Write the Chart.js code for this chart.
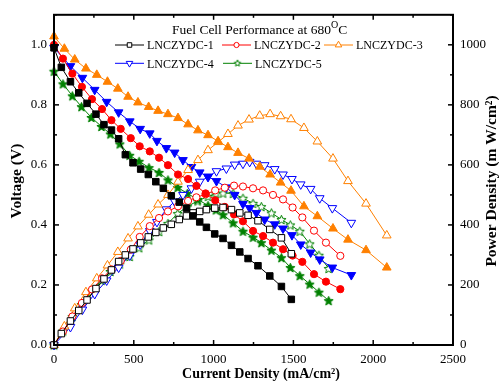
<!DOCTYPE html>
<html>
<head>
<meta charset="utf-8">
<script src="https://cdn.jsdelivr.net/npm/chart.js@4.4.0/dist/chart.umd.min.js"></script>
<style>
    html, body { margin: 0; padding: 0; background: #fff; }
</style>
</head>
<body>
<canvas id="fuelChart" width="499" height="381"></canvas>
<script>
/* ---------- data ---------- */
const sampleNames = ['LNCZYDC-1', 'LNCZYDC-2', 'LNCZYDC-3', 'LNCZYDC-4', 'LNCZYDC-5'];

// current density (mA/cm2), voltage (V), power density (mW/cm2)
const current1 = [0, 46, 103, 155, 207, 263, 313, 360, 405, 447, 495, 543, 591, 638, 685, 735, 785, 830, 871, 913, 955, 1007, 1059, 1112, 1164, 1216, 1278, 1352, 1425, 1487];
const voltage1 = [0.99, 0.925, 0.877, 0.84, 0.805, 0.769, 0.734, 0.716, 0.687, 0.634, 0.607, 0.586, 0.568, 0.544, 0.522, 0.497, 0.476, 0.456, 0.43, 0.41, 0.392, 0.37, 0.355, 0.332, 0.31, 0.288, 0.264, 0.23, 0.195, 0.152];
const power1   = [0, 38, 80, 115, 150, 188, 220, 250, 278, 300, 320, 340, 360, 375, 390, 402, 418, 430, 440, 445, 451, 456, 458, 451, 440, 432, 414, 385, 357, 304];

const current2 = [0, 56, 115, 175, 238, 301, 360, 418, 481, 537, 600, 658, 714, 777, 840, 892, 950, 1010, 1070, 1128, 1184, 1247, 1310, 1372, 1435, 1495, 1556, 1629, 1704, 1794];
const voltage2 = [1.0, 0.954, 0.904, 0.86, 0.819, 0.786, 0.749, 0.72, 0.689, 0.662, 0.645, 0.624, 0.599, 0.568, 0.553, 0.53, 0.505, 0.482, 0.46, 0.435, 0.412, 0.38, 0.363, 0.341, 0.319, 0.298, 0.277, 0.236, 0.211, 0.186];
const power2   = [0, 45, 95, 140, 185, 222, 252, 280, 318, 360, 396, 423, 445, 462, 480, 492, 502, 515, 524, 531, 528, 522, 515, 500, 485, 458, 425, 381, 341, 297];

const current3 = [0, 65, 130, 200, 268, 335, 400, 464, 526, 593, 652, 714, 777, 840, 902, 965, 1028, 1090, 1153, 1222, 1289, 1354, 1420, 1485, 1566, 1650, 1748, 1842, 1955, 2085];
const voltage3 = [1.028, 0.987, 0.951, 0.921, 0.9, 0.877, 0.854, 0.827, 0.808, 0.793, 0.78, 0.769, 0.756, 0.735, 0.715, 0.699, 0.679, 0.659, 0.64, 0.621, 0.594, 0.568, 0.541, 0.514, 0.462, 0.429, 0.388, 0.351, 0.316, 0.258];
const power3   = [0, 62, 122, 176, 222, 265, 310, 355, 395, 434, 468, 500, 544, 583, 616, 649, 676, 703, 731, 751, 764, 769, 762, 752, 723, 678, 621, 546, 471, 365];

const current4 = [0, 103, 178, 255, 330, 405, 475, 540, 600, 645, 704, 756, 808, 861, 913, 965, 1018, 1080, 1132, 1184, 1226, 1268, 1320, 1383, 1435, 1491, 1546, 1608, 1665, 1744, 1863];
const voltage4 = [0.99, 0.929, 0.89, 0.85, 0.81, 0.775, 0.745, 0.72, 0.705, 0.68, 0.656, 0.641, 0.616, 0.593, 0.575, 0.561, 0.546, 0.525, 0.5, 0.47, 0.456, 0.44, 0.418, 0.402, 0.388, 0.366, 0.335, 0.308, 0.285, 0.258, 0.233];
const power4   = [0, 60, 118, 170, 215, 258, 298, 335, 380, 410, 452, 478, 500, 522, 544, 560, 579, 588, 601, 604, 610, 604, 599, 586, 568, 553, 535, 520, 489, 456, 407];

const current5 = [0, 56, 115, 172, 234, 297, 353, 412, 474, 533, 595, 658, 714, 775, 835, 900, 965, 1015, 1059, 1122, 1184, 1247, 1299, 1362, 1425, 1481, 1540, 1602, 1660, 1721];
const voltage5 = [0.912, 0.87, 0.83, 0.794, 0.758, 0.728, 0.703, 0.67, 0.632, 0.612, 0.591, 0.575, 0.55, 0.525, 0.505, 0.485, 0.465, 0.45, 0.434, 0.407, 0.379, 0.359, 0.341, 0.316, 0.291, 0.258, 0.231, 0.203, 0.176, 0.148];
const power5   = [0, 47, 95, 135, 178, 215, 245, 270, 295, 324, 350, 378, 405, 438, 461, 480, 495, 505, 506, 505, 489, 472, 461, 440, 418, 400, 379, 337, 299, 255];

const voltageTicks = [0, 0.2, 0.4, 0.6, 0.8, 1.0];
const powerTicks = [0, 200, 400, 600, 800, 1000];
const currentTicks = [0, 500, 1000, 1500, 2000, 2500];

/* ---------- marker helpers ---------- */
const FONT = "'Liberation Serif', 'Times New Roman', serif";

function starCanvas(color, filled, outer) {
    const c = document.createElement('canvas');
    const s = Math.ceil(outer * 2 + 3);
    c.width = s; c.height = s;
    const g = c.getContext('2d');
    g.beginPath();
    for (let i = 0; i < 10; i++) {
        const r = i % 2 ? outer * 0.45 : outer;
        const a = -Math.PI / 2 + i * Math.PI / 5;
        g.lineTo(s / 2 + r * Math.cos(a), s / 2 + 0.5 + r * Math.sin(a));
    }
    g.closePath();
    g.fillStyle = filled ? color : '#fff';
    g.fill();
    g.strokeStyle = color;
    g.lineWidth = 1;
    g.stroke();
    return c;
}

const series = [
    { name: sampleNames[0], color: '#000000', style: 'rect', radius: 4.6, rotation: 0, cur: current1, v: voltage1, p: power1 },
    { name: sampleNames[1], color: '#ff0000', style: 'circle', radius: 3.6, rotation: 0, cur: current2, v: voltage2, p: power2 },
    { name: sampleNames[2], color: '#ff8000', style: 'triangle', radius: 5, rotation: 0, cur: current3, v: voltage3, p: power3 },
    { name: sampleNames[3], color: '#0000ff', style: 'triangle', radius: 5, rotation: 180, cur: current4, v: voltage4, p: power4 },
    { name: sampleNames[4], color: '#008000', style: 'star', radius: 5, rotation: 0, cur: current5, v: voltage5, p: power5 }
];
series[4].filledImg = starCanvas('#008000', true, 4.8);
series[4].openImg = starCanvas('#008000', false, 4.8);
const legendStar = starCanvas('#008000', false, 3.4);

const toPoints = (xs, ys) => xs.map((x, i) => ({ x, y: ys[i] }));

const datasets = [];
series.forEach((s) => {
    const base = {
        borderColor: s.color,
        borderWidth: 1,
        pointBorderColor: s.color,
        pointBorderWidth: 1,
        pointRadius: s.radius,
        pointRotation: s.rotation,
        showLine: true,
        tension: 0,
        clip: false
    };
    datasets.push(Object.assign({}, base, {
        label: s.name + ' V',
        data: toPoints(s.cur, s.v),
        yAxisID: 'y',
        pointStyle: s.style === 'star' ? s.filledImg : s.style,
        pointBackgroundColor: s.color
    }));
    datasets.push(Object.assign({}, base, {
        label: s.name + ' P',
        data: toPoints(s.cur, s.p),
        yAxisID: 'y1',
        pointStyle: s.style === 'star' ? s.openImg : s.style,
        pointBackgroundColor: '#ffffff'
    }));
});

/* ---------- frame, inward ticks, titles, legend ---------- */
const framePlugin = {
    id: 'frame',
    afterDraw(chart) {
        const { ctx, chartArea: a, scales } = chart;
        ctx.save();
        ctx.strokeStyle = '#000';
        ctx.lineWidth = 1.5;

        const line = (x1, y1, x2, y2) => {
            ctx.beginPath(); ctx.moveTo(x1, y1); ctx.lineTo(x2, y2); ctx.stroke();
        };
        for (let v = 0; v <= 2500; v += 250) {
            const x = scales.x.getPixelForValue(v);
            const len = v % 500 === 0 ? 5 : 3;
            line(x, a.bottom, x, a.bottom - len);
            line(x, a.top, x, a.top + len);
        }
        for (let i = 0; i <= 11; i++) {
            const y = scales.y.getPixelForValue(i / 10);
            line(a.left, y, a.left + (i % 2 === 0 ? 5 : 3), y);
        }
        for (let v = 0; v <= 1100; v += 100) {
            const y = scales.y1.getPixelForValue(v);
            line(a.right, y, a.right - (v % 200 === 0 ? 5 : 3), y);
        }

        ctx.lineWidth = 2;
        ctx.strokeRect(a.left, a.top, a.right - a.left, a.bottom - a.top);

        // axis titles
        ctx.fillStyle = '#000';
        ctx.textAlign = 'center';
        ctx.textBaseline = 'middle';
        ctx.font = 'bold 14px ' + FONT;
        ctx.fillText('Current Density (mA/cm²)', 261, 374);

        ctx.font = 'bold 15.5px ' + FONT;
        ctx.save();
        ctx.translate(17, 181);
        ctx.rotate(-Math.PI / 2);
        ctx.fillText('Voltage (V)', 0, 0);
        ctx.restore();

        ctx.save();
        ctx.translate(492, 181);
        ctx.rotate(-Math.PI / 2);
        ctx.fillText('Power Density (m W/cm²)', 0, 0);
        ctx.restore();

        // heading inside the plot
        ctx.textAlign = 'left';
        ctx.textBaseline = 'alphabetic';
        ctx.font = '13.5px ' + FONT;
        const head = 'Fuel Cell Performance at 680';
        let hx = 172;
        ctx.fillText(head, hx, 33.5);
        hx += ctx.measureText(head).width;
        ctx.font = '10px ' + FONT;
        ctx.fillText('O', hx, 27.5);
        hx += ctx.measureText('O').width;
        ctx.font = '13.5px ' + FONT;
        ctx.fillText('C', hx, 33.5);

        // legend entries: line + small open marker + label
        const spots = [[115, 45], [222, 45], [324, 45], [115, 63.3], [223, 63.3]];
        series.forEach((s, i) => {
            const [lx, ly] = spots[i];
            ctx.strokeStyle = s.color;
            ctx.lineWidth = 1;
            line(lx, ly, lx + 29, ly);
            const mx = lx + 14.5;
            if (s.style === 'star') {
                ctx.drawImage(legendStar, mx - legendStar.width / 2, ly - legendStar.height / 2 - 0.5);
            } else {
                ctx.fillStyle = '#fff';
                const r = s.style === 'circle' ? 2.6 : (s.style === 'rect' ? 3.2 : 3.8);
                Chart.helpers.drawPoint(ctx, { pointStyle: s.style, rotation: s.rotation, radius: r, borderWidth: 1 }, mx, ly);
            }
            ctx.fillStyle = '#000';
            ctx.font = '12px ' + FONT;
            ctx.fillText(s.name, lx + 32, ly + 4.3);
        });
        ctx.restore();
    }
};

/* ---------- chart ---------- */
const tickFont = { family: FONT, size: 13 };

new Chart(document.getElementById('fuelChart'), {
    type: 'scatter',
    data: { datasets },
    options: {
        responsive: false,
        devicePixelRatio: 1,
        animation: false,
        layout: { padding: { top: 11, right: 0, bottom: 0, left: 0 } },
        plugins: { legend: { display: false }, tooltip: { enabled: false } },
        scales: {
            x: {
                type: 'linear',
                min: 0, max: 2500,
                afterFit: (s) => { s.height = 36; },
                afterBuildTicks: (s) => { s.ticks = currentTicks.map((value) => ({ value })); },
                grid: { display: false, drawTicks: false },
                border: { display: false },
                ticks: { padding: 7, color: '#000', font: tickFont, callback: (v) => String(v) }
            },
            y: {
                position: 'left',
                min: 0, max: 1.1,
                afterFit: (s) => { s.width = 54; },
                afterBuildTicks: (s) => { s.ticks = voltageTicks.map((value) => ({ value })); },
                grid: { display: false, drawTicks: false },
                border: { display: false },
                ticks: { padding: 7, color: '#000', font: tickFont, callback: (v) => v.toFixed(1) }
            },
            y1: {
                position: 'right',
                min: 0, max: 1100,
                afterFit: (s) => { s.width = 46; },
                afterBuildTicks: (s) => { s.ticks = powerTicks.map((value) => ({ value })); },
                grid: { display: false, drawTicks: false },
                border: { display: false },
                ticks: { padding: 7, color: '#000', font: tickFont, callback: (v) => String(v) }
            }
        }
    },
    plugins: [framePlugin]
});
</script>
</body>
</html>
